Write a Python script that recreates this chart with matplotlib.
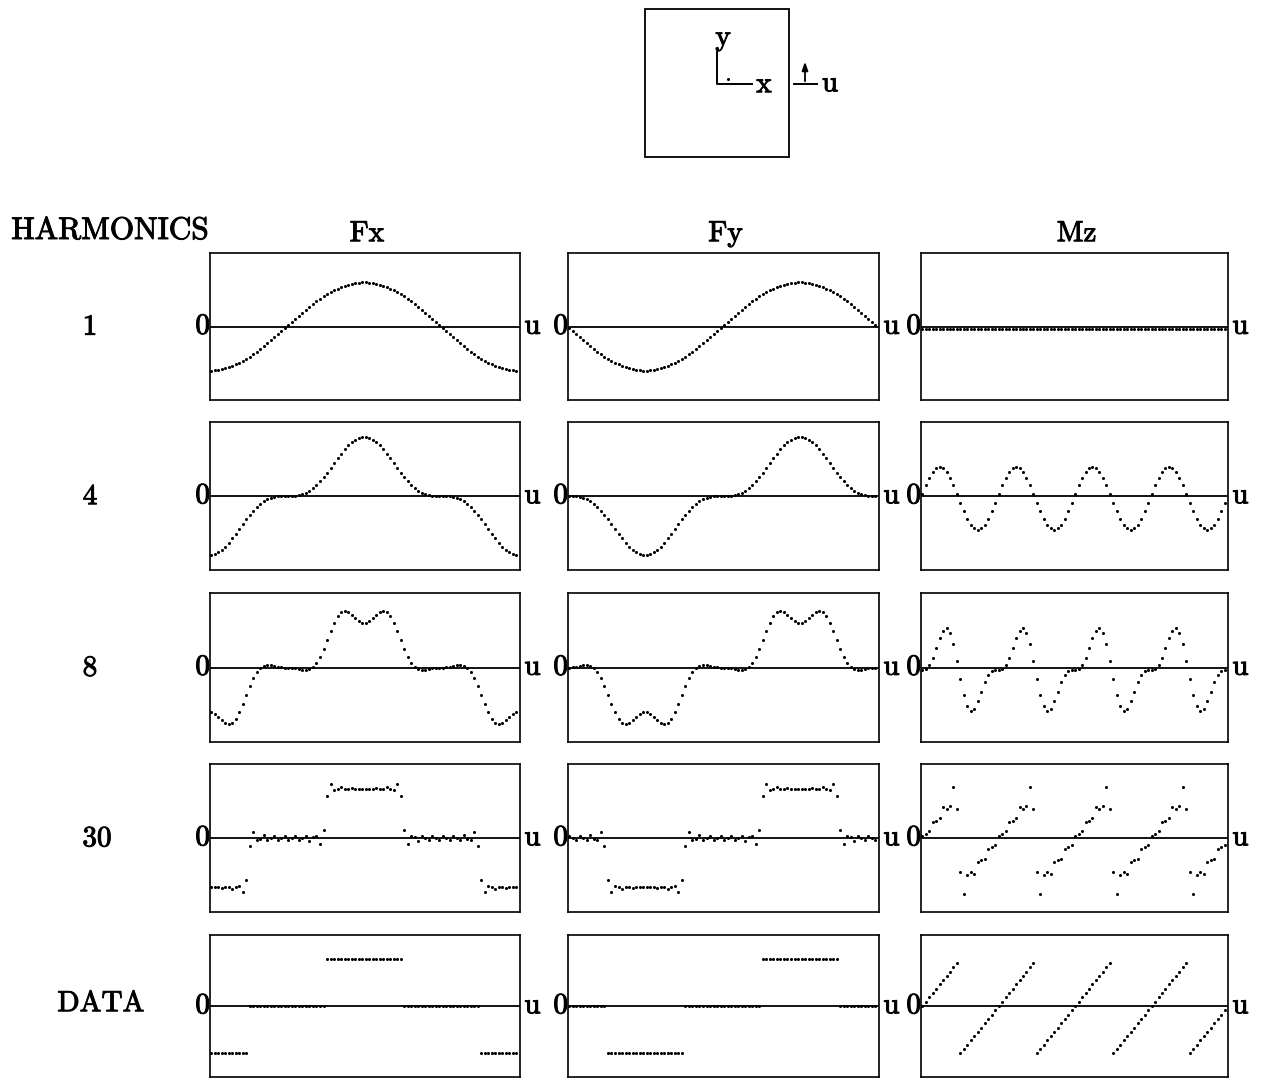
import numpy as np
import matplotlib
matplotlib.use('Agg')
import matplotlib.pyplot as plt
import matplotlib.patheffects as pe
from matplotlib.patches import Rectangle

# ---------------- data ----------------
N_SAMPLES = 88                       # sample points per period u in [0, 1)
HARMONICS = [1, 4, 8, 30]            # rows of partial Fourier sums
ROW_LABELS = ['1', '4', '8', '30', 'DATA']
COMPONENTS = ['Fx', 'Fy', 'Mz']

FX_EDGES = [0.125, 0.375, 0.625, 0.875]
FX_LEVELS = [-1.0, 0.0, 1.0, 0.0, -1.0]
FY_EDGES = [0.125, 0.375, 0.625, 0.875]
FY_LEVELS = [0.0, -1.0, 0.0, 1.0, 0.0]
MZ_PERIOD = 0.25
MZ_AMPLITUDE = 1.0
Y_LIMIT = 1.5

# ---------------- derived series ----------------
u = np.arange(N_SAMPLES) / N_SAMPLES


def steps(edges, levels):
    idx = np.searchsorted(edges, u, side='right')
    return np.asarray(levels)[idx]


half = MZ_PERIOD / 2
data = {
    'Fx': steps(FX_EDGES, FX_LEVELS),
    'Fy': steps(FY_EDGES, FY_LEVELS),
    'Mz': MZ_AMPLITUDE * (((u + half) % MZ_PERIOD) - half) / half,
}


def partial_sum(y, h):
    c = np.fft.rfft(y)
    c[h + 1:] = 0
    return np.fft.irfft(c, n=len(y))


# ---------------- figure ----------------
W, H = 1263, 1081
fig = plt.figure(figsize=(W / 100, H / 100), dpi=100)
FONT = 'cmr10'
FS = 21
stroke = [pe.withStroke(linewidth=0.7, foreground='black')]


def px_axes(x0, y0, x1, y1):
    return fig.add_axes([x0 / W, 1 - y1 / H, (x1 - x0) / W, (y1 - y0) / H])


def ftext(x, y, s, size=FS, **kw):
    kw.setdefault('ha', 'center')
    kw.setdefault('va', 'center')
    fig.text(x / W, 1 - y / H, s, family=FONT, fontsize=size,
             path_effects=stroke, **kw)


COLS = [(210, 520), (568, 879), (921, 1228)]
ROWS = [(253, 400), (422, 570), (593, 742), (764, 912), (935, 1077)]

for r, (y0, y1) in enumerate(ROWS):
    for c, (x0, x1) in enumerate(COLS):
        ax = px_axes(x0, y0, x1, y1)
        comp = COMPONENTS[c]
        if r < len(HARMONICS):
            vals = partial_sum(data[comp], HARMONICS[r])
        else:
            vals = data[comp]
        ax.axhline(0, color='black', lw=1.3, zorder=1)
        ax.plot(u, vals, 'o', ms=2.2, color='black', mec='none', zorder=2,
                clip_on=False)
        ax.set_xlim(-0.004, 1.0)
        ax.set_ylim(-Y_LIMIT, Y_LIMIT)
        ax.set_xticks([])
        ax.set_yticks([])
        for s in ax.spines.values():
            s.set_linewidth(1.2)
        ax.text(0.0, 0.5, '0', transform=ax.transAxes, ha='right',
                va='center', family=FONT, fontsize=FS, path_effects=stroke)
        ax.text(1.014, 0.5, 'u', transform=ax.transAxes, ha='left',
                va='center', family=FONT, fontsize=FS, path_effects=stroke)

# headers
ftext(110, 231, 'HARMONICS', size=22.5)
for c, (x0, x1) in enumerate(COLS):
    ftext((x0 + x1) / 2 + 2, 234, COMPONENTS[c])
ROW_X = [90, 90, 90, 97, 101]
for r, (y0, y1) in enumerate(ROWS):
    ftext(ROW_X[r], (y0 + y1) / 2 + 1 if r < 4 else 1004, ROW_LABELS[r])

# ---------------- schematic at the top ----------------
sk = fig.add_axes([0, 0, 1, 1], zorder=-1)
sk.set_xlim(0, W)
sk.set_ylim(H, 0)
sk.axis('off')
sk.add_patch(Rectangle((645, 9), 144, 148, fill=False, lw=1.3, ec='black'))
sk.plot([717, 717, 752], [52, 84, 84], color='black', lw=1.4)
sk.plot([728], [79], 'o', ms=1.2, color='black')
sk.plot([794, 817], [84, 84], color='black', lw=1.4)
sk.annotate('', xy=(805, 59), xytext=(805, 84),
            arrowprops=dict(arrowstyle='-|>,head_length=0.5,head_width=0.18',
                            color='black', lw=1.3))
ftext(723, 38, 'y')
ftext(764, 85, 'x')
ftext(830, 84, 'u')

fig.savefig('out.png', dpi=100)
